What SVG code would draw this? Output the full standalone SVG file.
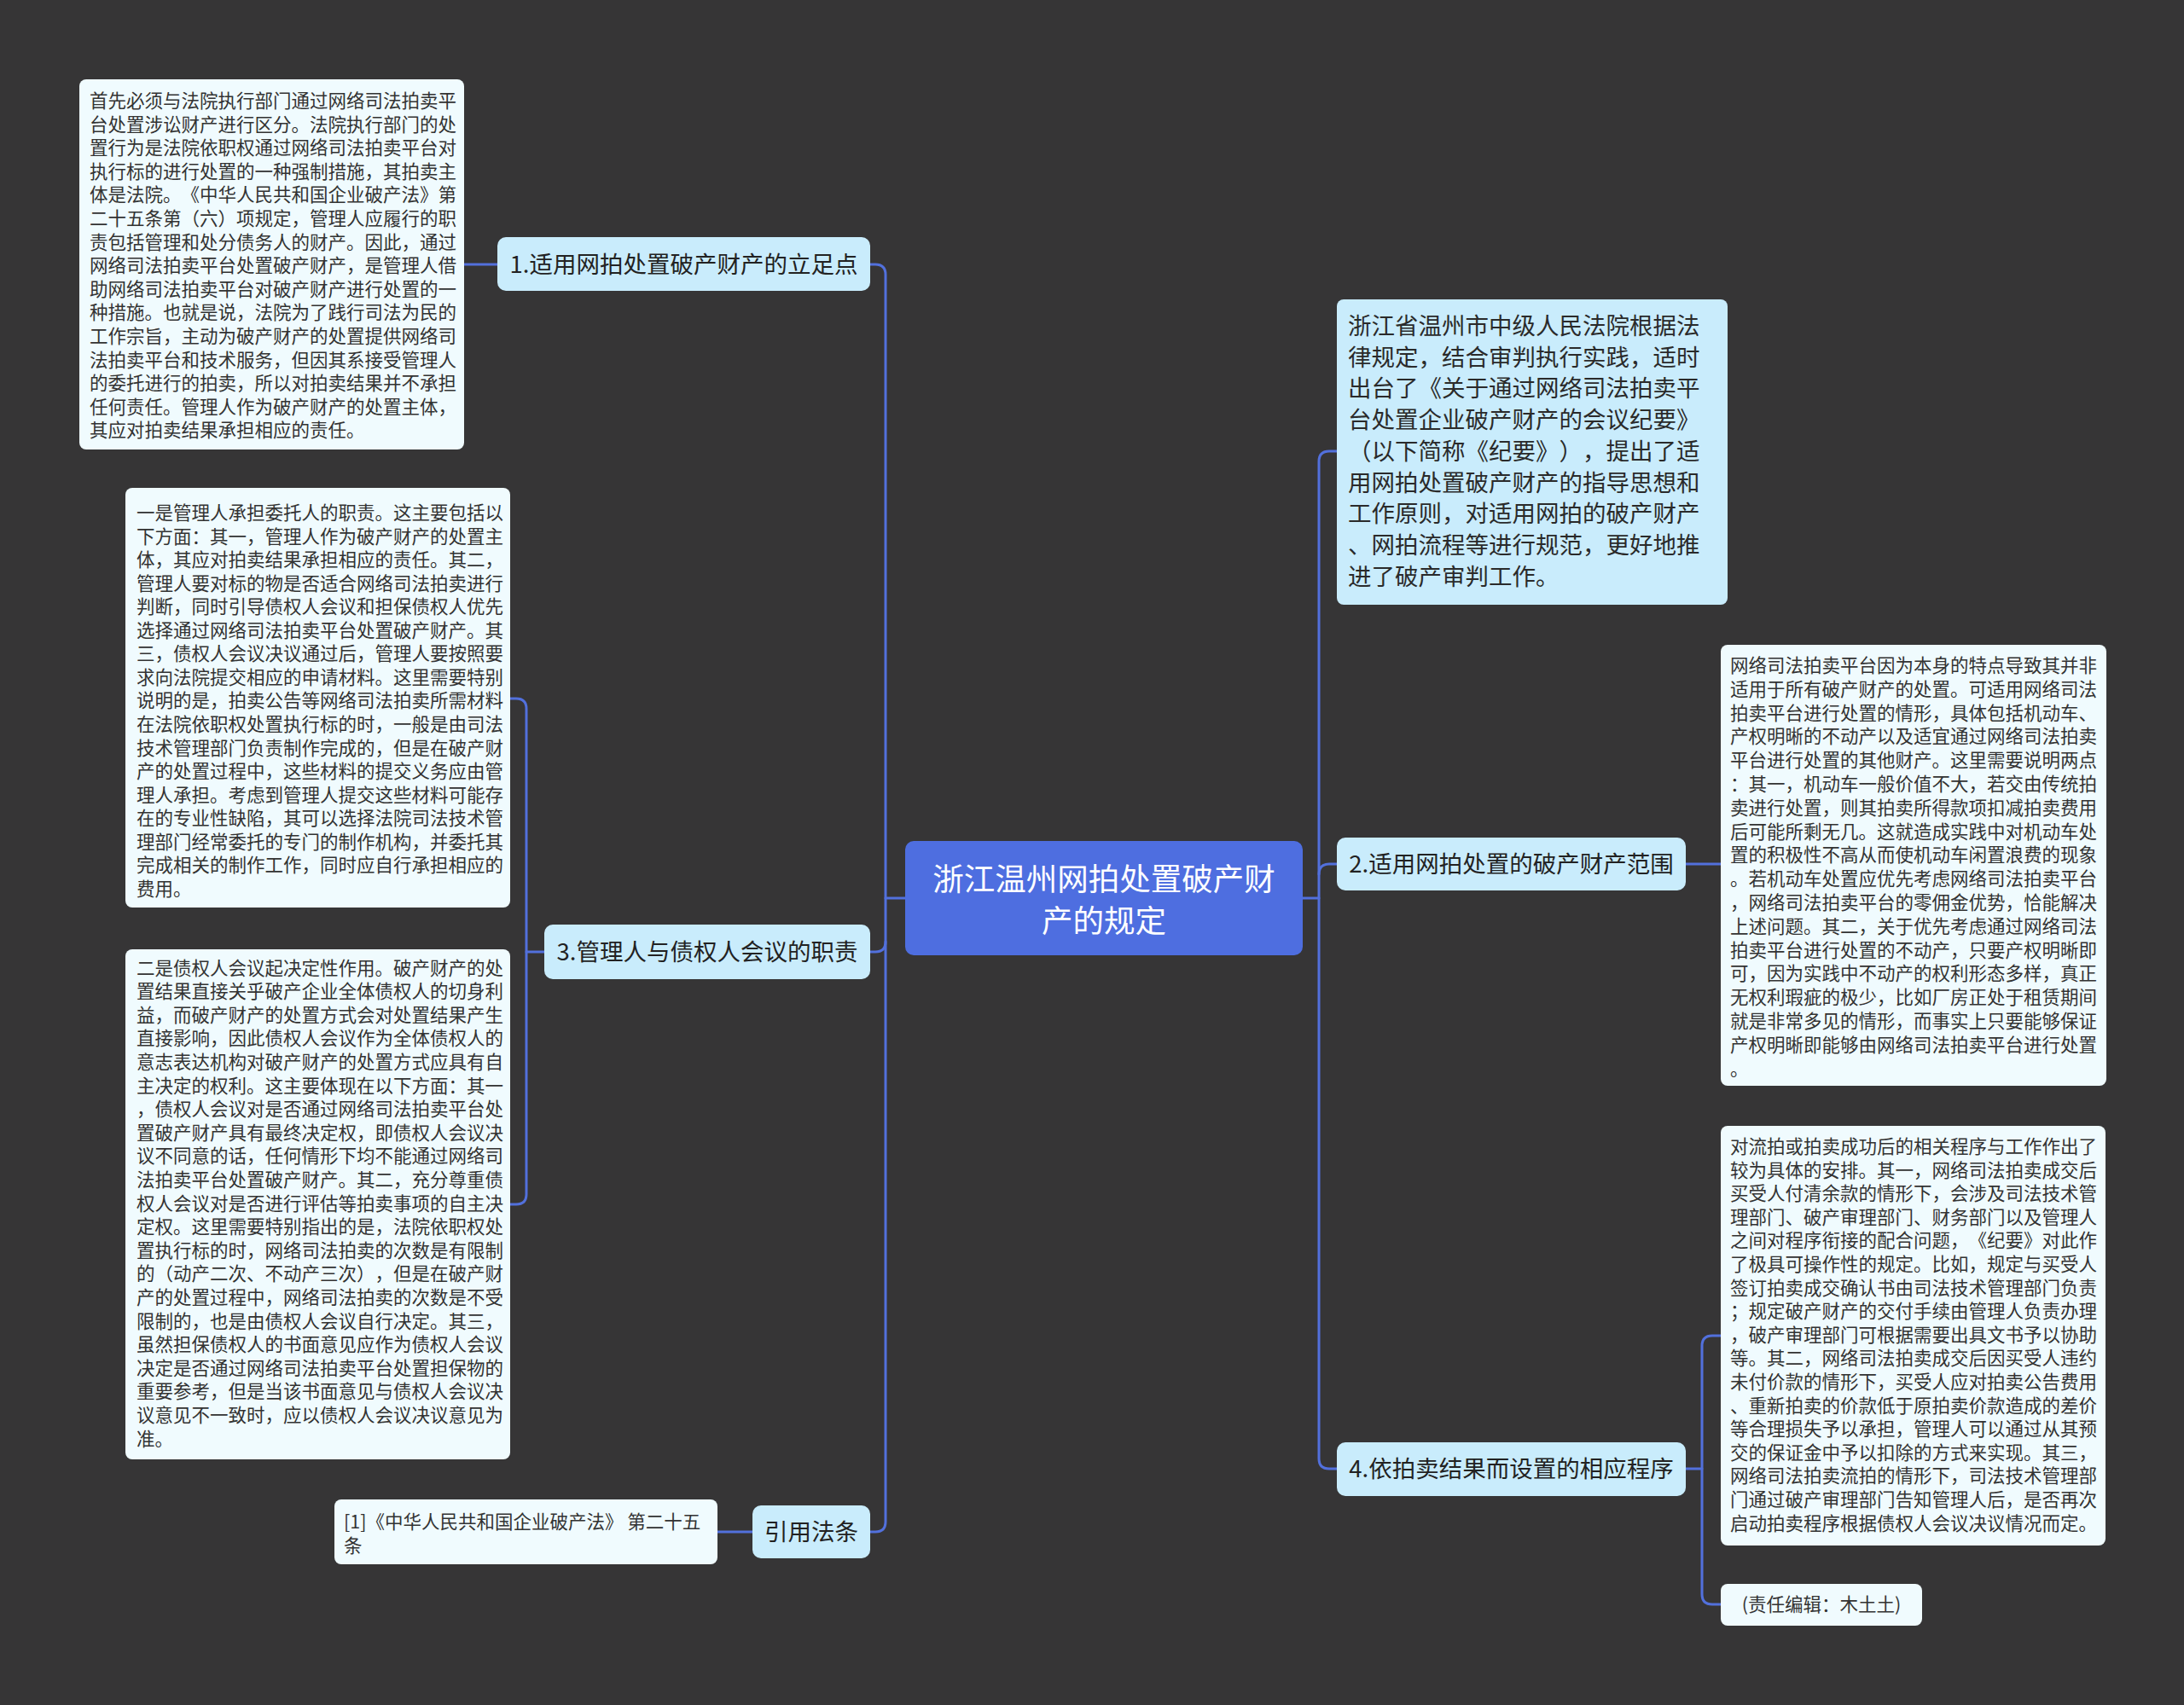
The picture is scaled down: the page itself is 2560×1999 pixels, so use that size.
<svg xmlns="http://www.w3.org/2000/svg" width="2560" height="1999" viewBox="0 0 2560 1999">
<style>
.bg{fill:#363536}
.main{fill:#4e6ee0}
.sub{fill:#c9ecfc}
.leaf{fill:#f0fbfe}
text{font-family:"Noto Sans CJK SC","Noto Sans",sans-serif;text-spacing-trim:space-all;font-kerning:none}
.tm{font-size:36.5px;fill:#ffffff;text-anchor:middle}
.ts{font-size:27.5px;fill:#222222;text-anchor:middle}
.ti{font-size:27.5px;fill:#2a2a2a}
.tl{font-size:21.5px;fill:#333333}
.conn{fill:none;stroke:#5270dc;stroke-width:3;stroke-linecap:round}
</style>
<rect class="bg" x="0" y="0" width="2560" height="1999"/>

<g id="connectors">
  <path class="conn" d="M1061,1053 H1038"/>
  <path class="conn" d="M1020,310 H1026 Q1038,310 1038,322 V1784 Q1038,1796 1026,1796 H1020"/>
  <path class="conn" d="M1020,1116 H1026 Q1038,1116 1038,1104"/>
  <path class="conn" d="M1527,1053 H1546"/>
  <path class="conn" d="M1567,529 H1558 Q1546,529 1546,541 V1710 Q1546,1722 1558,1722 H1567"/>
  <path class="conn" d="M1546,1025 Q1546,1013 1558,1013 H1567"/>
  <path class="conn" d="M544,310 H583"/>
  <path class="conn" d="M638,1116 H617"/>
  <path class="conn" d="M598,819 H605 Q617,819 617,831 V1400 Q617,1412 605,1412 H598"/>
  <path class="conn" d="M841,1796 H882"/>
  <path class="conn" d="M1976,1013 H2017"/>
  <path class="conn" d="M1976,1722 H1995"/>
  <path class="conn" d="M2017,1566 H2007 Q1995,1566 1995,1578 V1869 Q1995,1881 2007,1881 H2017"/>
</g>

<g id="center">
  <rect class="main" x="1061" y="986" width="466" height="134" rx="10"/>
  <text class="tm" x="1294" y="1044">浙江温州网拍处置破产财</text>
  <text class="tm" x="1294" y="1093">产的规定</text>
</g>

<g id="node1">
  <rect class="sub" x="583" y="278" width="437" height="63" rx="10"/>
  <text class="ts" x="801.5" y="320">1.适用网拍处置破产财产的立足点</text>
</g>

<g id="detail1">
  <rect class="leaf" x="93" y="93" width="451" height="434" rx="8"/>
  <text class="tl" x="105" y="126">
    <tspan x="105" dy="0">首先必须与法院执行部门通过网络司法拍卖平</tspan>
    <tspan x="105" dy="27.6">台处置涉讼财产进行区分。法院执行部门的处</tspan>
    <tspan x="105" dy="27.6">置行为是法院依职权通过网络司法拍卖平台对</tspan>
    <tspan x="105" dy="27.6">执行标的进行处置的一种强制措施，其拍卖主</tspan>
    <tspan x="105" dy="27.6">体是法院。《中华人民共和国企业破产法》第</tspan>
    <tspan x="105" dy="27.6">二十五条第（六）项规定，管理人应履行的职</tspan>
    <tspan x="105" dy="27.6">责包括管理和处分债务人的财产。因此，通过</tspan>
    <tspan x="105" dy="27.6">网络司法拍卖平台处置破产财产，是管理人借</tspan>
    <tspan x="105" dy="27.6">助网络司法拍卖平台对破产财产进行处置的一</tspan>
    <tspan x="105" dy="27.6">种措施。也就是说，法院为了践行司法为民的</tspan>
    <tspan x="105" dy="27.6">工作宗旨，主动为破产财产的处置提供网络司</tspan>
    <tspan x="105" dy="27.6">法拍卖平台和技术服务，但因其系接受管理人</tspan>
    <tspan x="105" dy="27.6">的委托进行的拍卖，所以对拍卖结果并不承担</tspan>
    <tspan x="105" dy="27.6">任何责任。管理人作为破产财产的处置主体，</tspan>
    <tspan x="105" dy="27.6">其应对拍卖结果承担相应的责任。</tspan>
  </text>
</g>

<g id="node3">
  <rect class="sub" x="638" y="1084" width="382" height="64" rx="10"/>
  <text class="ts" x="829" y="1126">3.管理人与债权人会议的职责</text>
</g>

<g id="detail3a">
  <rect class="leaf" x="147" y="572" width="451" height="492" rx="8"/>
  <text class="tl" x="160" y="609">
    <tspan x="160" dy="0">一是管理人承担委托人的职责。这主要包括以</tspan>
    <tspan x="160" dy="27.55">下方面：其一，管理人作为破产财产的处置主</tspan>
    <tspan x="160" dy="27.55">体，其应对拍卖结果承担相应的责任。其二，</tspan>
    <tspan x="160" dy="27.55">管理人要对标的物是否适合网络司法拍卖进行</tspan>
    <tspan x="160" dy="27.55">判断，同时引导债权人会议和担保债权人优先</tspan>
    <tspan x="160" dy="27.55">选择通过网络司法拍卖平台处置破产财产。其</tspan>
    <tspan x="160" dy="27.55">三，债权人会议决议通过后，管理人要按照要</tspan>
    <tspan x="160" dy="27.55">求向法院提交相应的申请材料。这里需要特别</tspan>
    <tspan x="160" dy="27.55">说明的是，拍卖公告等网络司法拍卖所需材料</tspan>
    <tspan x="160" dy="27.55">在法院依职权处置执行标的时，一般是由司法</tspan>
    <tspan x="160" dy="27.55">技术管理部门负责制作完成的，但是在破产财</tspan>
    <tspan x="160" dy="27.55">产的处置过程中，这些材料的提交义务应由管</tspan>
    <tspan x="160" dy="27.55">理人承担。考虑到管理人提交这些材料可能存</tspan>
    <tspan x="160" dy="27.55">在的专业性缺陷，其可以选择法院司法技术管</tspan>
    <tspan x="160" dy="27.55">理部门经常委托的专门的制作机构，并委托其</tspan>
    <tspan x="160" dy="27.55">完成相关的制作工作，同时应自行承担相应的</tspan>
    <tspan x="160" dy="27.55">费用。</tspan>
  </text>
</g>

<g id="detail3b">
  <rect class="leaf" x="147" y="1113" width="451" height="598" rx="8"/>
  <text class="tl" x="160" y="1142.5">
    <tspan x="160" dy="0">二是债权人会议起决定性作用。破产财产的处</tspan>
    <tspan x="160" dy="27.6">置结果直接关乎破产企业全体债权人的切身利</tspan>
    <tspan x="160" dy="27.6">益，而破产财产的处置方式会对处置结果产生</tspan>
    <tspan x="160" dy="27.6">直接影响，因此债权人会议作为全体债权人的</tspan>
    <tspan x="160" dy="27.6">意志表达机构对破产财产的处置方式应具有自</tspan>
    <tspan x="160" dy="27.6">主决定的权利。这主要体现在以下方面：其一</tspan>
    <tspan x="160" dy="27.6">，债权人会议对是否通过网络司法拍卖平台处</tspan>
    <tspan x="160" dy="27.6">置破产财产具有最终决定权，即债权人会议决</tspan>
    <tspan x="160" dy="27.6">议不同意的话，任何情形下均不能通过网络司</tspan>
    <tspan x="160" dy="27.6">法拍卖平台处置破产财产。其二，充分尊重债</tspan>
    <tspan x="160" dy="27.6">权人会议对是否进行评估等拍卖事项的自主决</tspan>
    <tspan x="160" dy="27.6">定权。这里需要特别指出的是，法院依职权处</tspan>
    <tspan x="160" dy="27.6">置执行标的时，网络司法拍卖的次数是有限制</tspan>
    <tspan x="160" dy="27.6">的（动产二次、不动产三次），但是在破产财</tspan>
    <tspan x="160" dy="27.6">产的处置过程中，网络司法拍卖的次数是不受</tspan>
    <tspan x="160" dy="27.6">限制的，也是由债权人会议自行决定。其三，</tspan>
    <tspan x="160" dy="27.6">虽然担保债权人的书面意见应作为债权人会议</tspan>
    <tspan x="160" dy="27.6">决定是否通过网络司法拍卖平台处置担保物的</tspan>
    <tspan x="160" dy="27.6">重要参考，但是当该书面意见与债权人会议决</tspan>
    <tspan x="160" dy="27.6">议意见不一致时，应以债权人会议决议意见为</tspan>
    <tspan x="160" dy="27.6">准。</tspan>
  </text>
</g>

<g id="node-cite">
  <rect class="sub" x="882" y="1765" width="138" height="62" rx="10"/>
  <text class="ts" x="951" y="1806">引用法条</text>
</g>

<g id="detail-cite">
  <rect class="leaf" x="392" y="1758" width="449" height="76" rx="8"/>
  <text class="tl" x="403" y="1792">
    <tspan x="403" dy="0">[1]《中华人民共和国企业破产法》 第二十五</tspan>
    <tspan x="403" dy="27.5">条</tspan>
  </text>
</g>

<g id="intro">
  <rect class="sub" x="1567" y="351" width="458" height="358" rx="8"/>
  <text class="ti" x="1580" y="392">
    <tspan x="1580" dy="0">浙江省温州市中级人民法院根据法</tspan>
    <tspan x="1580" dy="36.7">律规定，结合审判执行实践，适时</tspan>
    <tspan x="1580" dy="36.7">出台了《关于通过网络司法拍卖平</tspan>
    <tspan x="1580" dy="36.7">台处置企业破产财产的会议纪要》</tspan>
    <tspan x="1580" dy="36.7">（以下简称《纪要》），提出了适</tspan>
    <tspan x="1580" dy="36.7">用网拍处置破产财产的指导思想和</tspan>
    <tspan x="1580" dy="36.7">工作原则，对适用网拍的破产财产</tspan>
    <tspan x="1580" dy="36.7">、网拍流程等进行规范，更好地推</tspan>
    <tspan x="1580" dy="36.7">进了破产审判工作。</tspan>
  </text>
</g>

<g id="node2">
  <rect class="sub" x="1567" y="982" width="409" height="62" rx="10"/>
  <text class="ts" x="1771.5" y="1023">2.适用网拍处置的破产财产范围</text>
</g>

<g id="detail2">
  <rect class="leaf" x="2017" y="756" width="452" height="517" rx="8"/>
  <text class="tl" x="2028" y="788">
    <tspan x="2028" dy="0">网络司法拍卖平台因为本身的特点导致其并非</tspan>
    <tspan x="2028" dy="27.8">适用于所有破产财产的处置。可适用网络司法</tspan>
    <tspan x="2028" dy="27.8">拍卖平台进行处置的情形，具体包括机动车、</tspan>
    <tspan x="2028" dy="27.8">产权明晰的不动产以及适宜通过网络司法拍卖</tspan>
    <tspan x="2028" dy="27.8">平台进行处置的其他财产。这里需要说明两点</tspan>
    <tspan x="2028" dy="27.8">：其一，机动车一般价值不大，若交由传统拍</tspan>
    <tspan x="2028" dy="27.8">卖进行处置，则其拍卖所得款项扣减拍卖费用</tspan>
    <tspan x="2028" dy="27.8">后可能所剩无几。这就造成实践中对机动车处</tspan>
    <tspan x="2028" dy="27.8">置的积极性不高从而使机动车闲置浪费的现象</tspan>
    <tspan x="2028" dy="27.8">。若机动车处置应优先考虑网络司法拍卖平台</tspan>
    <tspan x="2028" dy="27.8">，网络司法拍卖平台的零佣金优势，恰能解决</tspan>
    <tspan x="2028" dy="27.8">上述问题。其二，关于优先考虑通过网络司法</tspan>
    <tspan x="2028" dy="27.8">拍卖平台进行处置的不动产，只要产权明晰即</tspan>
    <tspan x="2028" dy="27.8">可，因为实践中不动产的权利形态多样，真正</tspan>
    <tspan x="2028" dy="27.8">无权利瑕疵的极少，比如厂房正处于租赁期间</tspan>
    <tspan x="2028" dy="27.8">就是非常多见的情形，而事实上只要能够保证</tspan>
    <tspan x="2028" dy="27.8">产权明晰即能够由网络司法拍卖平台进行处置</tspan>
    <tspan x="2028" dy="27.8">。</tspan>
  </text>
</g>

<g id="node4">
  <rect class="sub" x="1567" y="1691" width="409" height="63" rx="10"/>
  <text class="ts" x="1771.5" y="1732">4.依拍卖结果而设置的相应程序</text>
</g>

<g id="detail4">
  <rect class="leaf" x="2017" y="1320" width="451" height="492" rx="8"/>
  <text class="tl" x="2028" y="1352">
    <tspan x="2028" dy="0">对流拍或拍卖成功后的相关程序与工作作出了</tspan>
    <tspan x="2028" dy="27.6">较为具体的安排。其一，网络司法拍卖成交后</tspan>
    <tspan x="2028" dy="27.6">买受人付清余款的情形下，会涉及司法技术管</tspan>
    <tspan x="2028" dy="27.6">理部门、破产审理部门、财务部门以及管理人</tspan>
    <tspan x="2028" dy="27.6">之间对程序衔接的配合问题，《纪要》对此作</tspan>
    <tspan x="2028" dy="27.6">了极具可操作性的规定。比如，规定与买受人</tspan>
    <tspan x="2028" dy="27.6">签订拍卖成交确认书由司法技术管理部门负责</tspan>
    <tspan x="2028" dy="27.6">；规定破产财产的交付手续由管理人负责办理</tspan>
    <tspan x="2028" dy="27.6">，破产审理部门可根据需要出具文书予以协助</tspan>
    <tspan x="2028" dy="27.6">等。其二，网络司法拍卖成交后因买受人违约</tspan>
    <tspan x="2028" dy="27.6">未付价款的情形下，买受人应对拍卖公告费用</tspan>
    <tspan x="2028" dy="27.6">、重新拍卖的价款低于原拍卖价款造成的差价</tspan>
    <tspan x="2028" dy="27.6">等合理损失予以承担，管理人可以通过从其预</tspan>
    <tspan x="2028" dy="27.6">交的保证金中予以扣除的方式来实现。其三，</tspan>
    <tspan x="2028" dy="27.6">网络司法拍卖流拍的情形下，司法技术管理部</tspan>
    <tspan x="2028" dy="27.6">门通过破产审理部门告知管理人后，是否再次</tspan>
    <tspan x="2028" dy="27.6">启动拍卖程序根据债权人会议决议情况而定。</tspan>
  </text>
</g>

<g id="editor">
  <rect class="leaf" x="2017" y="1857" width="236" height="49" rx="8"/>
  <text class="tl" x="2135" y="1889" text-anchor="middle">(责任编辑：木土土)</text>
</g>
</svg>
